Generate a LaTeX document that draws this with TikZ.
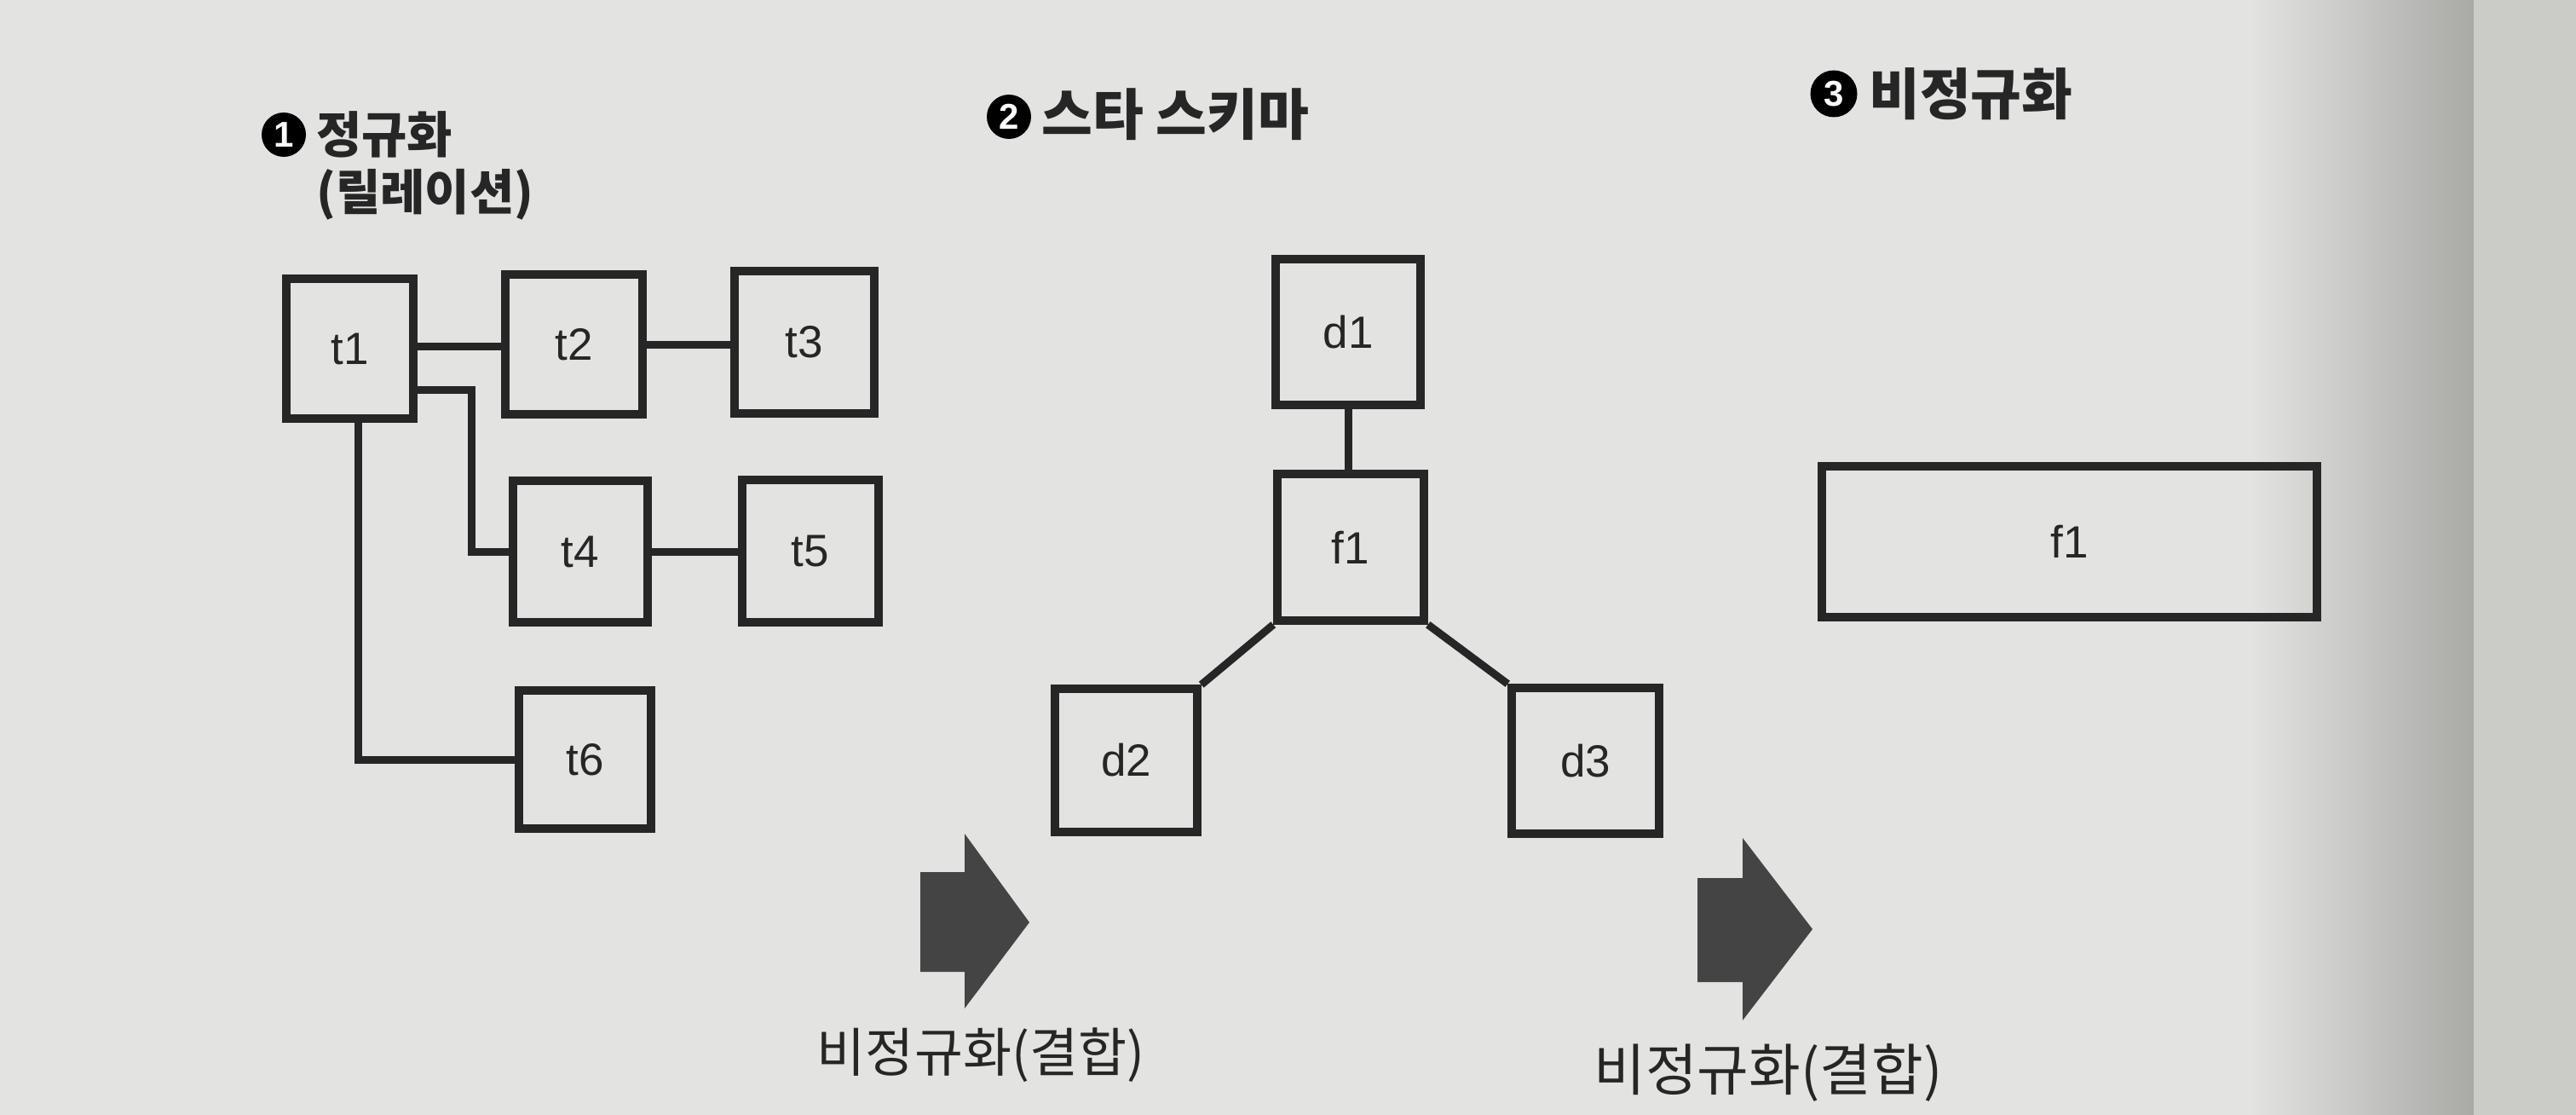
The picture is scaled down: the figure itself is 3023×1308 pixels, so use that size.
\documentclass[tikz,border=0pt]{standalone}
\usepackage{fontspec}
\setmainfont{Liberation Sans}
\newfontfamily\kr{Noto Sans CJK KR}
\definecolor{pagebg}{HTML}{E3E3E1}
\definecolor{edgedark}{HTML}{A9A9A6}
\definecolor{edgelight}{HTML}{CBCBC8}
\definecolor{ink}{HTML}{262626}
\definecolor{arrowfill}{HTML}{444444}
\begin{document}
\begin{tikzpicture}[x=1pt,y=-1pt,
  tbl/.style={draw=ink, line width=9.5pt, inner sep=0pt, text=ink,
              font=\fontsize{53}{53}\selectfont},
  conn/.style={draw=ink, line width=9pt},
  numc/.style={circle, fill=black, text=white, inner sep=0pt, minimum size=52pt,
               font=\bfseries\fontsize{42}{42}\selectfont},
  title/.style={anchor=west, inner sep=0pt, text=ink,
                font=\kr\bfseries\fontsize{58}{60}\selectfont},
  lbl/.style={inner sep=0pt, text=ink, font=\kr\fontsize{62}{66}\selectfont},
  bigarrow/.style={fill=arrowfill}
]
% background (page, shadow, page edge)
\fill[pagebg] (0,0) rectangle (3023,1308);
\shade[left color=pagebg, right color=edgedark] (2640,0) rectangle (2903,1308);
\fill[edgelight] (2903,0) rectangle (3023,1308);

% ---------- 1: normalized ----------
\node[numc] (n1) at (333,158) {1};
\node[title] (h1a) at (371,158) {정규화};
\node[title, font=\kr\bfseries\fontsize{57}{60}\selectfont] (h1b) at (371,228) {(릴레이션)};

\node[tbl, minimum width=149pt, minimum height=164pt] (t1) at (410.5,409) {t1};
\node[tbl, minimum width=161pt, minimum height=164pt] (t2) at (673.5,404) {t2};
\node[tbl, minimum width=164pt, minimum height=167pt] (t3) at (944,401.5) {t3};
\node[tbl, minimum width=158pt, minimum height=166pt] (t4) at (681,647) {t4};
\node[tbl, minimum width=160pt, minimum height=167pt] (t5) at (951,646.5) {t5};
\node[tbl, minimum width=155pt, minimum height=162pt] (t6) at (686.5,891) {t6};

\draw[conn] ([yshift=3pt]t1.east) -- ([yshift=3pt]t1.east -| t2.west);
\draw[conn] (t2.east) -- (t2.east -| t3.west);
\draw[conn] ([yshift=-48pt]t1.east) -- ++(64,0) |- (t4.west);
\draw[conn] ([xshift=10pt]t1.south) |- (t6.west);
\draw[conn] (t4.east) -- (t4.east -| t5.west);

% ---------- 2: star schema ----------
\node[numc] (n2) at (1184,137) {2};
\node[title, font=\kr\bfseries\fontsize{65}{66}\selectfont] (h2) at (1222,134) {스타 스키마};

\node[tbl, minimum width=170pt, minimum height=171pt] (d1) at (1582,389.5) {d1};
\node[tbl, minimum width=172pt, minimum height=172pt] (f1) at (1585,642) {f1};
\node[tbl, minimum width=167pt, minimum height=168pt] (d2) at (1321.5,892) {d2};
\node[tbl, minimum width=173pt, minimum height=171pt] (d3) at (1860.5,892.5) {d3};

\draw[conn] (d1.south) -- (d1.south |- f1.north);
\draw[conn] (f1.south west) -- (d2.north east);
\draw[conn] (f1.south east) -- (d3.north west);

% ---------- 3: denormalized ----------
\node[numc, minimum size=55pt] (n3) at (2152,110) {3};
\node[title, font=\kr\bfseries\fontsize{65}{66}\selectfont] (h3) at (2193,110) {비정규화};

\node[tbl, minimum width=581pt, minimum height=177pt] (F1) at (2428.5,635.5) {f1};

% ---------- transition arrows ----------
\fill[bigarrow] (1080,1023) -- (1132,1023) -- (1132,978) -- (1208,1082)
   -- (1132,1183) -- (1132,1140) -- (1080,1140) -- cycle;
\node[lbl] (a1) at (1151,1238) {비정규화(결합)};

\fill[bigarrow] (1992,1030) -- (2045,1030) -- (2045,983) -- (2127,1090)
   -- (2045,1197) -- (2045,1152) -- (1992,1152) -- cycle;
\node[lbl, font=\kr\fontsize{66}{68}\selectfont] (a2) at (2075,1258) {비정규화(결합)};
\end{tikzpicture}
\end{document}
